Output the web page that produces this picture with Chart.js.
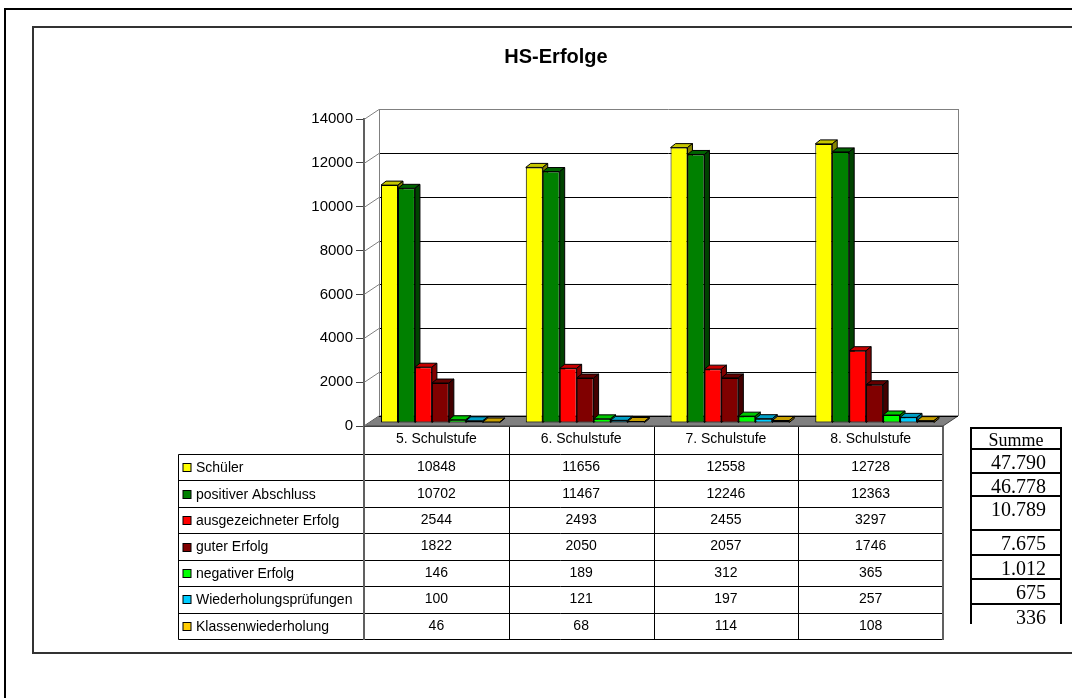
<!DOCTYPE html>
<html>
<head>
<meta charset="utf-8">
<script src="https://cdn.jsdelivr.net/npm/chart.js@4/dist/chart.umd.min.js"></script>
<style>
body { margin: 0; background: #fff; overflow: hidden; }
#page { position: relative; width: 1072px; height: 698px; overflow: hidden; }
#outer { position: absolute; left: 4px; top: 8px; width: 1120px; height: 740px; border: 2px solid #000; box-sizing: border-box; }
#inner { position: absolute; left: 32px; top: 26px; width: 1080px; height: 628px; border: 2px solid #333; box-sizing: border-box; }
#chart { position: absolute; left: 0; top: 0; }
#summe { position: absolute; left: 970px; top: 427px; width: 92px; font-family: 'Liberation Serif', 'Times New Roman', serif; color: #000; }
#summe div { box-sizing: border-box; border: 2px solid #000; border-bottom: none; padding: 2px 14px 0 0; text-align: right; font-size: 20px; line-height: 20px; overflow: hidden; }
#summe div.head { text-align: center; font-size: 18px; line-height: 18px; padding: 2px 0 0 0; }
</style>
</head>
<body>
<div id="page">
  <div id="outer"></div>
  <div id="inner"></div>
  <canvas id="chart" width="1072" height="698"></canvas>
  <div id="summe"></div>
</div>
<script>
const categories = ['5. Schulstufe', '6. Schulstufe', '7. Schulstufe', '8. Schulstufe'];
const seriesNames = ['Schüler', 'positiver Abschluss', 'ausgezeichneter Erfolg', 'guter Erfolg',
    'negativer Erfolg', 'Wiederholungsprüfungen', 'Klassenwiederholung'];
const schueler = [10848, 11656, 12558, 12728];
const positiverAbschluss = [10702, 11467, 12246, 12363];
const ausgezeichnet = [2544, 2493, 2455, 3297];
const guterErfolg = [1822, 2050, 2057, 1746];
const negativ = [146, 189, 312, 365];
const wiederholungspruefungen = [100, 121, 197, 257];
const klassenwiederholung = [46, 68, 114, 108];
const summen = [47790, 46778, 10789, 7675, 1012, 675, 336];
const yMax = 14000;
const yStep = 2000;

const seriesValues = [schueler, positiverAbschluss, ausgezeichnet, guterErfolg,
    negativ, wiederholungspruefungen, klassenwiederholung];
const colors = ['#FFFF00', '#008000', '#FF0000', '#800000', '#00FF00', '#00CCFF', '#FFCC00'];

const FONT = "'Liberation Sans', Arial, sans-serif";
const WALL = { x: 15, y: -10 };   // depth of the back wall
const BAR = { x: 5, y: -4 };      // depth of each bar
const SHIFT = { x: 4, y: -3 };    // bars stand in the middle of the floor

function shade(hex, f) {
    const n = parseInt(hex.slice(1), 16);
    const r = Math.round(((n >> 16) & 255) * f);
    const g = Math.round(((n >> 8) & 255) * f);
    const b = Math.round((n & 255) * f);
    return 'rgb(' + r + ',' + g + ',' + b + ')';
}

function poly(ctx, pts, fill) {
    ctx.beginPath();
    ctx.moveTo(pts[0][0], pts[0][1]);
    for (let i = 1; i < pts.length; i++) ctx.lineTo(pts[i][0], pts[i][1]);
    ctx.closePath();
    if (fill) { ctx.fillStyle = fill; ctx.fill(); }
    ctx.stroke();
}

function drawWalls(chart) {
    const { ctx, chartArea: a, scales: { y } } = chart;
    ctx.save();
    ctx.lineWidth = 1;
    // floor
    ctx.strokeStyle = '#404040';
    poly(ctx, [[a.left, a.bottom], [a.right, a.bottom], [a.right + WALL.x, a.bottom + WALL.y],
        [a.left + WALL.x, a.bottom + WALL.y]], '#808080');
    // gridlines on side and back wall
    y.ticks.forEach(t => {
        const py = Math.round(y.getPixelForValue(t.value)) + 0.5;
        ctx.strokeStyle = '#808080';
        ctx.beginPath();
        ctx.moveTo(a.left, py);
        ctx.lineTo(a.left + WALL.x, py + WALL.y);
        ctx.stroke();
        ctx.strokeStyle = t.value === yMax ? '#808080' : '#000';
        ctx.beginPath();
        ctx.moveTo(a.left + WALL.x, py + WALL.y);
        ctx.lineTo(a.right + WALL.x, py + WALL.y);
        ctx.stroke();
    });
    // wall edges
    ctx.strokeStyle = '#808080';
    ctx.beginPath();
    ctx.moveTo(a.left + WALL.x + 0.5, a.top + WALL.y);
    ctx.lineTo(a.left + WALL.x + 0.5, a.bottom + WALL.y);
    ctx.moveTo(a.right + WALL.x + 0.5, a.top + WALL.y);
    ctx.lineTo(a.right + WALL.x + 0.5, a.bottom + WALL.y);
    ctx.stroke();
    ctx.restore();
}

function drawFaces(ctx, meta) {
    const c = colors[meta.index];
    ctx.save();
    ctx.lineWidth = 1;
    ctx.strokeStyle = '#000';
    meta.data.forEach(bar => {
        const p = bar.getProps(['x', 'y', 'base', 'width'], true);
        const l = p.x - p.width / 2;
        const r = p.x + p.width / 2;
        poly(ctx, [[l, p.y], [l + BAR.x, p.y + BAR.y], [r + BAR.x, p.y + BAR.y], [r, p.y]], shade(c, 0.78));
        poly(ctx, [[r, p.y], [r + BAR.x, p.y + BAR.y], [r + BAR.x, p.base + BAR.y], [r, p.base]], shade(c, 0.52));
    });
    ctx.restore();
}

const bars3d = {
    id: 'bars3d',
    beforeDatasetsDraw(chart) {
        drawWalls(chart);
        const ctx = chart.ctx;
        ctx.save();
        ctx.translate(SHIFT.x, SHIFT.y);
        chart.getSortedVisibleDatasetMetas().forEach(meta => {
            meta.controller.draw();
            drawFaces(ctx, meta);
        });
        ctx.restore();
        return false;
    }
};

const dataTable = {
    id: 'dataTable',
    afterDraw(chart) {
        const { ctx, chartArea: a, scales: { x } } = chart;
        const tableLeft = 178.5;
        const headH = 28;
        const rowH = 26.43;
        const top = a.bottom;
        const bodyTop = top + headH;
        const bottom = bodyTop + rowH * seriesNames.length;
        const colW = (a.right - a.left) / categories.length;
        ctx.save();
        ctx.lineWidth = 1;
        ctx.strokeStyle = '#000';
        ctx.beginPath();
        for (let k = 0; k <= seriesNames.length; k++) {
            const py = Math.round(bodyTop + k * rowH) + 0.5;
            ctx.moveTo(tableLeft, py);
            ctx.lineTo(a.right, py);
        }
        ctx.moveTo(tableLeft, Math.round(bodyTop) + 0.5);
        ctx.lineTo(tableLeft, Math.round(bottom) + 0.5);
        for (let j = 1; j < categories.length; j++) {
            const px = Math.round(a.left + j * colW) + 0.5;
            ctx.moveTo(px, top);
            ctx.lineTo(px, Math.round(bottom) + 0.5);
        }
        ctx.stroke();
        // front edges in grey
        ctx.strokeStyle = '#606060';
        ctx.lineWidth = 2;
        ctx.beginPath();
        ctx.moveTo(a.left, top);
        ctx.lineTo(a.left, Math.round(bottom) + 1);
        ctx.moveTo(a.right, top);
        ctx.lineTo(a.right, Math.round(bottom) + 1);
        ctx.stroke();
        ctx.strokeStyle = '#404040';
        ctx.lineWidth = 1;
        ctx.beginPath();
        ctx.moveTo(a.left, Math.round(top) + 0.5);
        ctx.lineTo(a.right, Math.round(top) + 0.5);
        ctx.stroke();

        ctx.fillStyle = '#000';
        ctx.font = '14px ' + FONT;
        ctx.textBaseline = 'middle';
        ctx.textAlign = 'center';
        categories.forEach((c, i) => ctx.fillText(c, x.getPixelForValue(i), top + headH / 2 - 1));
        seriesNames.forEach((name, s) => {
            const cy = bodyTop + rowH * s + rowH / 2 + 1;
            ctx.fillStyle = colors[s];
            ctx.strokeStyle = '#000';
            ctx.fillRect(tableLeft + 4.5, Math.round(cy) - 4.5, 8, 8);
            ctx.strokeRect(tableLeft + 4.5, Math.round(cy) - 4.5, 8, 8);
            ctx.fillStyle = '#000';
            ctx.textAlign = 'left';
            ctx.fillText(name, tableLeft + 17.5, cy);
            ctx.textAlign = 'center';
            seriesValues[s].forEach((v, i) => ctx.fillText(String(v), x.getPixelForValue(i), cy - 1));
        });
        ctx.restore();
    }
};

new Chart(document.getElementById('chart').getContext('2d'), {
    type: 'bar',
    data: {
        labels: categories,
        datasets: seriesNames.map((name, i) => ({
            label: name,
            data: seriesValues[i],
            backgroundColor: colors[i],
            borderColor: '#000',
            borderWidth: 1,
            borderSkipped: false
        }))
    },
    options: {
        responsive: false,
        animation: false,
        devicePixelRatio: 1,
        layout: { padding: { left: 169, right: 129, top: 0, bottom: 272 } },
        datasets: { bar: { categoryPercentage: 0.82, barPercentage: 1 } },
        plugins: {
            legend: { display: false },
            tooltip: { enabled: false },
            title: {
                display: true,
                text: 'HS-Erfolge',
                color: '#000',
                font: { family: FONT, size: 20, weight: 'bold' },
                padding: { top: 45, bottom: 50 }
            }
        },
        scales: {
            x: { display: false },
            y: {
                min: 0,
                max: yMax,
                ticks: {
                    stepSize: yStep, color: '#000', padding: 3,
                    font: { family: FONT, size: 15 },
                    callback: v => String(v)
                },
                grid: { drawOnChartArea: false, drawTicks: true, tickLength: 8, color: '#404040' },
                border: { display: true, color: '#606060', width: 2 },
                afterFit(scale) { scale.width = 195; }
            }
        }
    },
    plugins: [bars3d, dataTable]
});

const rowHeights = [21, 24, 23, 34, 25, 24, 25, 21];
const summe = document.getElementById('summe');
const head = document.createElement('div');
head.className = 'head';
head.textContent = 'Summe';
head.style.height = rowHeights[0] + 'px';
summe.appendChild(head);
summen.forEach((v, i) => {
    const d = document.createElement('div');
    d.textContent = String(v).replace(/\B(?=(\d{3})+(?!\d))/g, '.');
    d.style.height = rowHeights[i + 1] + 'px';
    summe.appendChild(d);
});
</script>
</body>
</html>
